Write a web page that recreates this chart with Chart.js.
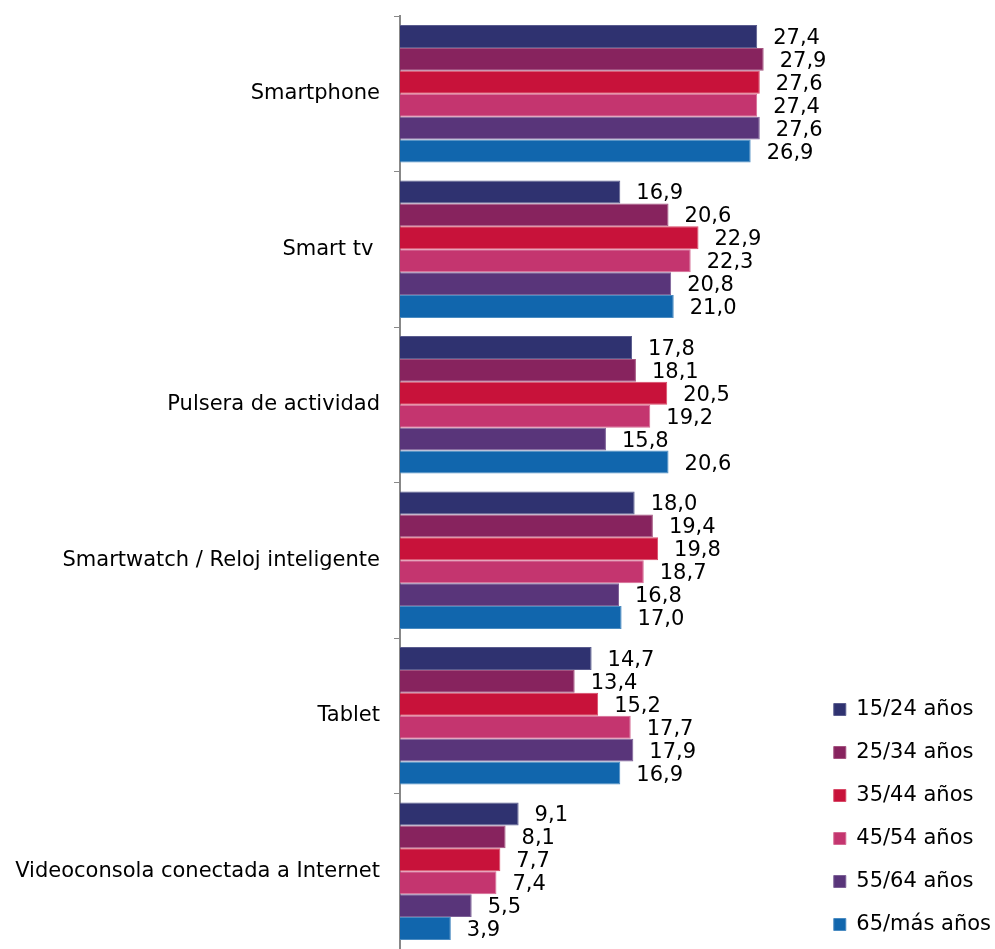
<!DOCTYPE html>
<html>
<head>
<meta charset="utf-8">
<script src="https://cdn.jsdelivr.net/npm/chart.js@4.4.1/dist/chart.umd.min.js"></script>
<style>
  body { margin: 0; background: #fff; }
  #wrap { width: 995px; height: 949px; }
</style>
</head>
<body>
<div id="wrap"><canvas id="chart" width="995" height="949"></canvas></div>
<script>
const categories = [
  "Smartphone",
  "Smart tv ",
  "Pulsera de actividad",
  "Smartwatch / Reloj inteligente",
  "Tablet",
  "Videoconsola conectada a Internet"
];

const ageGroups = ["15/24 años", "25/34 años", "35/44 años", "45/54 años", "55/64 años", "65/más años"];
const colors = ["#2f3270", "#87235e", "#c8123a", "#c4356f", "#59357a", "#1166ad"];
const edgeColors = ["#5a5c8e", "#a4537f", "#d84a68", "#d56a93", "#7d6197", "#4b8cc2"];

const age15_24 = [27.4, 16.9, 17.8, 18.0, 14.7, 9.1];
const age25_34 = [27.9, 20.6, 18.1, 19.4, 13.4, 8.1];
const age35_44 = [27.6, 22.9, 20.5, 19.8, 15.2, 7.7];
const age45_54 = [27.4, 22.3, 19.2, 18.7, 17.7, 7.4];
const age55_64 = [27.6, 20.8, 15.8, 16.8, 17.9, 5.5];
const age65 = [26.9, 21.0, 20.6, 17.0, 16.9, 3.9];

const seriesValues = [age15_24, age25_34, age35_44, age45_54, age55_64, age65];

const FONT = "'DejaVu Sans', Verdana, sans-serif";

// value labels to the right of each bar, with comma decimals
const valueLabels = {
  id: "valueLabels",
  afterLayout(chart) {
    // nudge the legend to where the original has it
    if (chart.legend) {
      chart.legend.bottom += 4;
      chart.legend.left += 6;
    }
  },
  afterDatasetsDraw(chart) {
    const ctx = chart.ctx;
    ctx.save();
    ctx.font = "21px " + FONT;
    ctx.fillStyle = "#000";
    ctx.textAlign = "left";
    ctx.textBaseline = "middle";
    chart.data.datasets.forEach((ds, i) => {
      const meta = chart.getDatasetMeta(i);
      meta.data.forEach((bar, j) => {
        const txt = ds.data[j].toFixed(1).replace(".", ",");
        ctx.fillText(txt, bar.x + 16, bar.y + 2);
      });
    });
    ctx.restore();
  }
};

new Chart(document.getElementById("chart"), {
  type: "bar",
  data: {
    labels: categories,
    datasets: ageGroups.map((name, i) => ({
      label: name,
      data: seriesValues[i],
      backgroundColor: colors[i],
      borderColor: edgeColors[i],
      borderWidth: 1,
      borderSkipped: "left",
      categoryPercentage: 0.885,
      barPercentage: 1
    }))
  },
  options: {
    indexAxis: "y",
    responsive: false,
    devicePixelRatio: 1,
    animation: false,
    layout: { autoPadding: false, padding: { top: 16, bottom: -4, left: 8, right: 0 } },
    plugins: {
      tooltip: { enabled: false },
      legend: {
        position: "right",
        align: "end",
        labels: {
          boxWidth: 12,
          boxHeight: 12,
          padding: 22,
          color: "#000",
          font: { family: FONT, size: 21 }
        }
      }
    },
    scales: {
      x: {
        display: false,
        min: 0,
        max: 31.13
      },
      y: {
        afterFit(scale) {
          scale.width = 392;
          scale.paddingTop = 0;
          scale.paddingBottom = 0;
        },
        grid: {
          offset: true,
          drawOnChartArea: false,
          tickLength: 6,
          color: "#888"
        },
        border: { color: "#888", width: 2 },
        ticks: {
          color: "#000",
          padding: 14,
          font: { family: FONT, size: 21 }
        }
      }
    }
  },
  plugins: [valueLabels]
});
</script>
</body>
</html>
